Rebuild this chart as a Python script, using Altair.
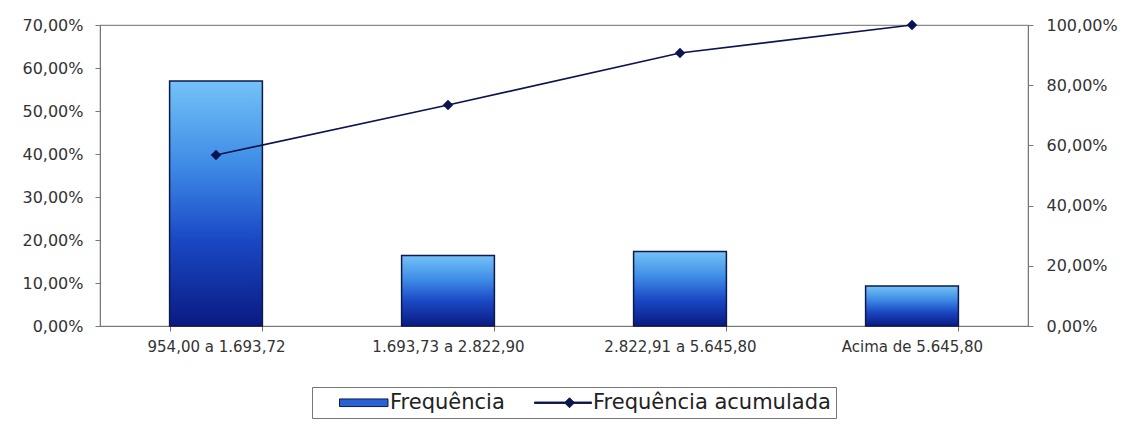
import altair as alt
import pandas as pd

# Data
categorias = ["954,00 a 1.693,72", "1.693,73 a 2.822,90", "2.822,91 a 5.645,80", "Acima de 5.645,80"]
frequencia = [0.570, 0.164, 0.173, 0.093]
acumulada = [0.568, 0.734, 0.907, 1.0]
serie_barras = "Frequência"
serie_linha = "Frequência acumulada"
ticks_esq = [0, 0.1, 0.2, 0.3, 0.4, 0.5, 0.6, 0.7]
ticks_dir = [0, 0.2, 0.4, 0.6, 0.8, 1.0]

df = pd.DataFrame({
    "cat": categorias,
    "freq": frequencia,
    "acum": acumulada,
    "serie": [serie_linha] * len(categorias),
})

pct_expr = "replace(format(datum.value, '.2%'), '.', ',')"
navy = "#0b1450"

x_enc = alt.X(
    "cat:N",
    sort=categorias,
    title=None,
    scale=alt.Scale(paddingInner=0.6, paddingOuter=0.3),
    axis=alt.Axis(labelAngle=0, tickBand="extent", labelPadding=8, tickSize=5,
                  labelFontSize=15),
)

gradient = alt.Gradient(
    gradient="linear",
    stops=[
        alt.GradientStop(color="#74c2f6", offset=0),
        alt.GradientStop(color="#3d8ae6", offset=0.35),
        alt.GradientStop(color="#1a48c4", offset=0.65),
        alt.GradientStop(color="#0a1a82", offset=1),
    ],
    x1=0, x2=0, y1=0, y2=1,
)

bars = alt.Chart(df).mark_bar(color=gradient, stroke="#0d1a4a", strokeWidth=1.5).encode(
    x=x_enc,
    y=alt.Y("freq:Q", title=None,
            scale=alt.Scale(domain=[0, 0.7], nice=False),
            axis=alt.Axis(values=ticks_esq, labelExpr=pct_expr, orient="left",
                          tickSize=5, labelPadding=12, labelFontSize=16)),
)

y_dir = alt.Y("acum:Q", title=None,
              scale=alt.Scale(domain=[0, 1], nice=False),
              axis=alt.Axis(values=ticks_dir, labelExpr=pct_expr, orient="right",
                            tickSize=5, labelPadding=13, labelFontSize=16))

line = alt.Chart(df).mark_line(color=navy, strokeWidth=1.6).encode(
    x=alt.X("cat:N", sort=categorias),
    y=y_dir,
)

sym_expr = (
    "datum.value === 'Frequência' ? 'M-3.9,-0.38H0.95V0.38H-3.9Z' : "
    "'M-4.7,-0.07H1.0V0.07H-4.7ZM-1.2,-0.5L-0.7,0L-1.2,0.5L-1.7,0Z'"
)
label_expr = "datum.value === 'Frequência acumulada' ? datum.label + '\u00a0' : datum.label"

points = alt.Chart(df).mark_point(filled=True, shape="diamond", size=110, opacity=1).encode(
    x=alt.X("cat:N", sort=categorias),
    y=y_dir,
    color=alt.Color(
        "serie:N",
        scale=alt.Scale(domain=[serie_barras, serie_linha], range=["#2a62d4", navy]),
        legend=alt.Legend(
            title=None,
            orient="none",
            legendX=212,
            legendY=362,
            direction="horizontal",
            symbolType=alt.ExprRef(expr=sym_expr),
            symbolSize=400,
            symbolStrokeColor="#0d1a4a",
            symbolStrokeWidth=1,
            symbolOffset=51,
            labelOffset=1,
            labelExpr=label_expr,
            labelFont="DejaVu Sans",
            labelFontSize=21,
            labelColor="#222",
            labelLimit=400,
            columnPadding=15,
            padding=5,
            strokeColor="#777",
            fillColor="white",
        ),
    ),
)

chart = alt.layer(bars, alt.layer(line, points)).resolve_scale(y="independent").properties(
    width=928,
    height=301,
    padding={"left": 92, "top": 17, "right": 93, "bottom": 93},
    autosize=alt.AutoSizeParams(type="none"),
    background="white",
).configure_view(
    stroke="#8a8a8a", strokeWidth=1.2
).configure_axis(
    grid=False,
    domainColor="#777",
    tickColor="#777",
    labelColor="#333",
    labelFont="DejaVu Sans",
    labelFontSize=15,
)

chart.save("out.html", embed_options={"renderer": "svg", "actions": False})
